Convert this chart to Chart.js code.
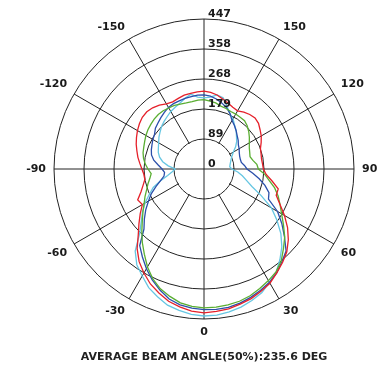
<!DOCTYPE html>
<html>
<head>
<meta charset="utf-8">
<script src="https://cdn.jsdelivr.net/npm/chart.js@4/dist/chart.umd.min.js"></script>
<style>
  html, body { margin: 0; padding: 0; background: #fff; }
  #wrap { width: 382px; height: 367px; position: relative; }
</style>
</head>
<body>
<div id="wrap"><canvas id="chart"></canvas></div>
<script>
// angles (deg) going clockwise from the top of the plot
const angles = [180, 175, 170, 165, 160, 155, 150, 145, 140, 135, 130, 125, 120, 115, 110, 105, 100, 95,
  90, 85, 80, 75, 70, 65, 60, 55, 50, 45, 40, 35, 30, 25, 20, 15, 10, 5,
  0, -5, -10, -15, -20, -25, -30, -35, -40, -45, -50, -55, -60, -65, -70, -75, -80, -85,
  -90, -95, -100, -105, -110, -115, -120, -125, -130, -135, -140, -145, -150, -155, -160, -165, -170, -175];

const angleTicks = [150, 120, 90, 60, 30, 0, -30, -60, -90, -120, -150];
const ringValues = [0, 89.4, 178.8, 268.2, 357.6, 447];
const ringLabels = ['0', '89', '179', '268', '358', '447'];

const redValues = [232, 229, 224, 216, 209, 203, 200, 207, 212, 215, 212, 204, 197, 188, 179, 176, 174, 175,
  177, 186, 206, 229, 229, 250, 277, 304, 328, 349, 364, 378, 393, 402, 411, 417, 423, 426,
  429, 425, 417, 408, 393, 378, 358, 337, 310, 277, 253, 232, 212, 218, 200, 188, 179, 180,
  185, 192, 200, 207, 215, 222, 229, 235, 240, 241, 238, 232, 224, 221, 224, 228, 229, 231];
const greenValues = [207, 203, 200, 194, 192, 189, 189, 188, 188, 182, 174, 165, 156, 149, 145, 142, 148, 158,
  162, 182, 197, 218, 235, 250, 267, 289, 314, 335, 358, 374, 384, 393, 402, 408, 411, 413,
  414, 411, 405, 393, 380, 361, 337, 310, 286, 262, 240, 222, 206, 194, 182, 173, 164, 158,
  167, 176, 183, 188, 191, 195, 200, 204, 207, 210, 212, 212, 210, 209, 206, 204, 204, 206];
const blueValues = [221, 218, 212, 204, 195, 183, 167, 158, 149, 140, 133, 125, 121, 116, 113, 112, 113, 121,
  128, 146, 167, 188, 206, 212, 253, 283, 313, 346, 361, 378, 390, 399, 407, 414, 419, 420,
  419, 416, 411, 401, 384, 365, 343, 320, 298, 253, 232, 212, 191, 173, 152, 134, 121, 118,
  125, 137, 152, 162, 167, 171, 176, 180, 189, 194, 200, 206, 212, 215, 216, 218, 219, 221];
const cyanValues = [212, 215, 224, 220, 200, 182, 173, 159, 149, 137, 127, 115, 101, 92, 86, 82, 79, 77,
  83, 101, 116, 131, 152, 188, 232, 265, 299, 328, 352, 375, 390, 407, 417, 426, 432, 437,
  438, 435, 428, 420, 405, 390, 368, 349, 319, 271, 244, 224, 203, 180, 161, 134, 110, 95,
  86, 107, 125, 137, 145, 150, 156, 164, 171, 179, 185, 191, 198, 203, 209, 218, 226, 215];

const gridColor = '#222';
const labelFont = 'bold 11px "DejaVu Sans", sans-serif';

// hides angle lines inside the first ring, keeps the two diameters, writes the texts
const polarText = {
  id: 'polarText',
  beforeDatasetsDraw(chart) {
    const s = chart.scales.r;
    const ctx = chart.ctx;
    const r1 = s.getDistanceFromCenterForValue(ringValues[1]);
    ctx.save();
    ctx.beginPath();
    ctx.arc(s.xCenter, s.yCenter, r1 - 0.8, 0, Math.PI * 2);
    ctx.fillStyle = '#fff';
    ctx.fill();
    ctx.strokeStyle = gridColor;
    ctx.lineWidth = 1;
    ctx.beginPath();
    ctx.moveTo(s.xCenter - r1, s.yCenter);
    ctx.lineTo(s.xCenter + r1, s.yCenter);
    ctx.moveTo(s.xCenter, s.yCenter - r1);
    ctx.lineTo(s.xCenter, s.yCenter + r1);
    ctx.stroke();
    ctx.restore();
  },
  afterDatasetsDraw(chart) {
    const s = chart.scales.r;
    const ctx = chart.ctx;
    ctx.save();
    ctx.font = labelFont;
    ctx.fillStyle = '#1a1a1a';
    // ring values along the upper vertical line
    ctx.textAlign = 'left';
    ctx.textBaseline = 'alphabetic';
    ringValues.forEach((v, i) => {
      const d = s.getDistanceFromCenterForValue(v);
      ctx.fillText(ringLabels[i], s.xCenter + 4, s.yCenter - d - 2);
    });
    // angle labels outside the outer ring
    const outer = s.getDistanceFromCenterForValue(s.max) + 8;
    angleTicks.forEach(a => {
      const idx = angles.indexOf(a);
      const p = s.getPointPosition(idx, outer);
      const rad = a * Math.PI / 180;
      const sx = Math.sin(rad), cy = Math.cos(rad);
      ctx.textAlign = sx > 0.01 ? 'left' : (sx < -0.01 ? 'right' : 'center');
      ctx.textBaseline = cy < -0.01 ? 'bottom' : (cy > 0.01 ? 'top' : 'middle');
      ctx.fillText(String(a), p.x, p.y);
    });
    ctx.restore();
  }
};

const series = (label, data, color) => ({
  label, data,
  borderColor: color,
  backgroundColor: color,
  borderWidth: 1.3,
  pointRadius: 0,
  fill: false,
  tension: 0
});

new Chart(document.getElementById('chart'), {
  type: 'radar',
  data: {
    labels: angles,
    datasets: [
      series('red', redValues, '#e5202a'),
      series('green', greenValues, '#5aae32'),
      series('blue', blueValues, '#2b4faa'),
      series('cyan', cyanValues, '#66c6e2')
    ]
  },
  options: {
    responsive: true,
    maintainAspectRatio: false,
    animation: false,
    layout: { padding: { left: 54, right: 28, top: 19, bottom: 3 } },
    plugins: {
      legend: { display: false },
      tooltip: { enabled: false },
      title: {
        display: true,
        position: 'bottom',
        text: 'AVERAGE BEAM ANGLE(50%):235.6 DEG',
        color: '#222',
        font: { family: '"DejaVu Sans", sans-serif', size: 11, weight: 'bold' },
        padding: { top: 31, bottom: 0 }
      }
    },
    scales: {
      r: {
        min: 0,
        max: 447,
        startAngle: 0,
        afterBuildTicks: s => { s.ticks = ringValues.map(v => ({ value: v })); },
        ticks: { display: false },
        pointLabels: { display: false },
        grid: { circular: true, color: gridColor, lineWidth: 1 },
        angleLines: {
          color: gridColor,
          lineWidth: ctx => (angles[ctx.index] % 30 === 0 ? 1 : 0)
        }
      }
    }
  },
  plugins: [polarText]
});
</script>
</body>
</html>
